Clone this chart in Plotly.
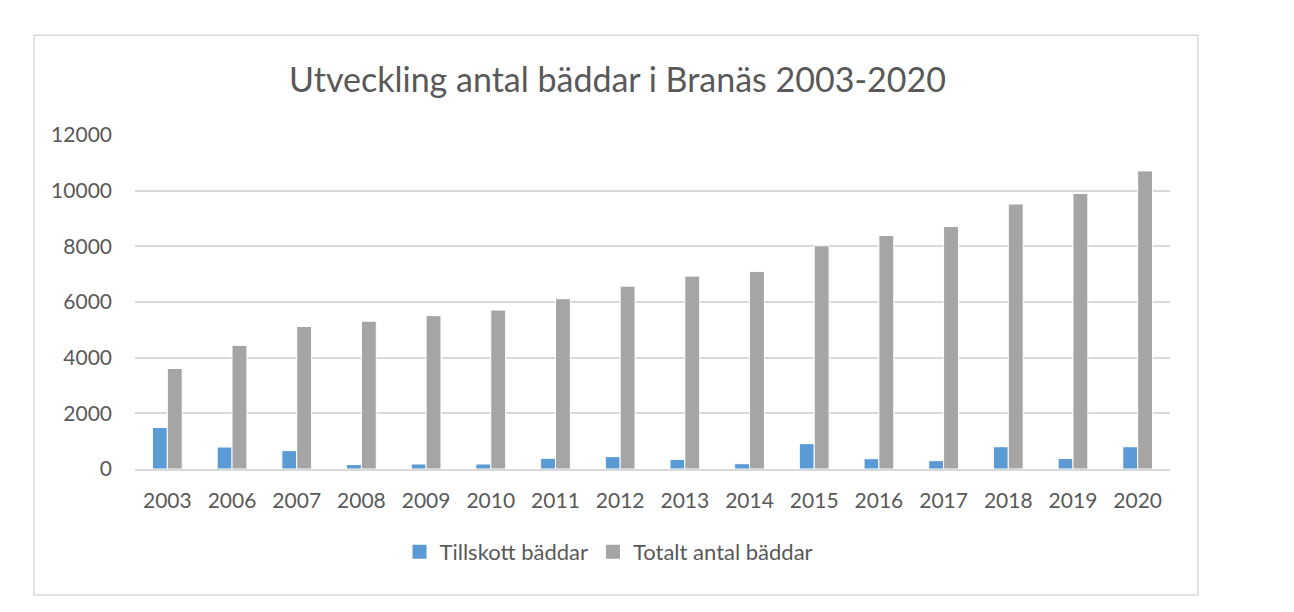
import plotly.graph_objects as go

# data
years = ["2003", "2006", "2007", "2008", "2009", "2010", "2011", "2012",
         "2013", "2014", "2015", "2016", "2017", "2018", "2019", "2020"]
tillskott = [1490, 790, 660, 160, 180, 180, 385, 445,
             345, 190, 910, 370, 300, 800, 380, 800]
totalt = [3610, 4440, 5120, 5310, 5510, 5710, 6120, 6570,
          6930, 7100, 8020, 8390, 8710, 9520, 9900, 10710]
y_ticks = [0, 2000, 4000, 6000, 8000, 10000, 12000]
y_labels = [str(v) for v in y_ticks]

TEXT = "#595959"
FONT = "Lato"
BLUE = "#5B9BD5"
GRAY = "#A5A5A5"

fig = go.Figure()
fig.add_trace(go.Bar(x=years, y=tillskott, name="Tillskott bäddar", showlegend=False,
                     marker=dict(color=BLUE, line=dict(color="white", width=1))))
fig.add_trace(go.Bar(x=years, y=totalt, name="Totalt antal bäddar", showlegend=False,
                     marker=dict(color=GRAY, line=dict(color="white", width=1))))

# legend-only entries so the legend squares can be as big as in Excel
for name, col in [("Tillskott bäddar", BLUE), ("Totalt antal bäddar", GRAY)]:
    fig.add_trace(go.Scatter(x=[None], y=[None], mode="markers", name=name,
                             marker=dict(symbol="square", size=14, color=col)))

# page has an 8px body margin, so the figure is a bit smaller than the window
fig.update_layout(
    width=1278, height=596,
    margin=dict(l=127, r=116, t=127, b=135),
    paper_bgcolor="white", plot_bgcolor="white",
    barmode="group", bargap=0.54, bargroupgap=0,
    font=dict(family=FONT, color=TEXT, size=21),
    title=dict(text="Utveckling antal bäddar i Branäs 2003-2020",
               x=609.5 / 1278, xref="container", xanchor="center",
               y=1 - 72 / 596, yanchor="middle",
               font=dict(family=FONT, size=34, color=TEXT)),
    legend=dict(orientation="h", x=0.458, xanchor="center", y=-0.248, yanchor="middle",
                font=dict(family=FONT, size=22, color=TEXT), itemsizing="trace",
                itemwidth=30),
    xaxis=dict(showgrid=False, showline=True, linecolor="#D9D9D9", linewidth=1.5,
               ticks="", ticklabelstandoff=12, tickfont=dict(size=21, color=TEXT)),
    yaxis=dict(range=[0, 12000], tickvals=y_ticks, ticktext=y_labels,
               showgrid=True, gridcolor="#D9D9D9",
               gridwidth=1.5, zeroline=False, ticks="", ticklabelstandoff=22,
               tickfont=dict(size=21, color=TEXT)),
    shapes=[dict(type="rect", xref="paper", yref="paper",
                 x0=-0.0976, x1=1.027, y0=-0.377, y1=1.299,
                 line=dict(color="#D9D9D9", width=1.5), fillcolor="rgba(0,0,0,0)")],
)

fig.write_html("out.html")
